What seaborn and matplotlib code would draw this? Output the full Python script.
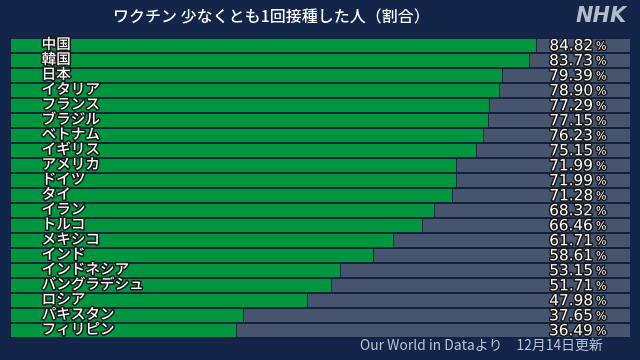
import seaborn as sns
import matplotlib.pyplot as plt
import matplotlib.patheffects as pe
import pandas as pd

countries = ['中国', '韓国', '日本', 'イタリア', 'フランス', 'ブラジル', 'ベトナム', 'イギリス',
             'アメリカ', 'ドイツ', 'タイ', 'イラン', 'トルコ', 'メキシコ', 'インド',
             'インドネシア', 'バングラデシュ', 'ロシア', 'パキスタン', 'フィリピン']
rates = [84.82, 83.73, 79.39, 78.90, 77.29, 77.15, 76.23, 75.15, 71.99, 71.99,
         71.28, 68.32, 66.46, 61.71, 58.61, 53.15, 51.71, 47.98, 37.65, 36.49]
full = [100] * len(countries)

title = 'ワクチン 少なくとも1回接種した人（割合）'
source = 'Our World in Dataより　12月14日更新'

bg = '#13264a'
green = '#00953f'
grey = '#46546e'

df = pd.DataFrame({'country': countries, 'rate': rates, 'full': full})

sns.set_style('white')
plt.rcParams['font.family'] = ['Noto Sans CJK JP', 'DejaVu Sans']

fig = plt.figure(figsize=(6.4, 3.6), dpi=100, facecolor=bg)
ax = fig.add_axes([10 / 640, 22.5 / 360, 620 / 640, 300 / 360])
ax.set_facecolor(bg)

sns.barplot(data=df, x='full', y='country', orient='h', color=grey, width=0.88,
            edgecolor='#0e1d38', linewidth=0.6, saturation=1, ax=ax)
sns.barplot(data=df, x='rate', y='country', orient='h', color=green, width=0.88,
            edgecolor='#0e1d38', linewidth=0.6, saturation=1, ax=ax)

ax.set_xlim(0, 100)
ax.set_ylim(len(countries) - 0.5, -0.5)
ax.set_axis_off()

outline = [pe.withStroke(linewidth=2.2, foreground='#1a1a1a')]
for i, (c, r) in enumerate(zip(countries, rates)):
    ax.text(5.1, i, c, color='white', fontsize=10.5, va='center', ha='left',
            fontweight='medium', path_effects=outline)
    ax.text(94.0, i + 0.05, f'{r:.2f}', color='white', fontsize=11, va='center', ha='right',
            family=['DejaVu Sans'], path_effects=outline)
    ax.text(94.5, i + 0.1, '%', color='white', fontsize=8, va='center', ha='left',
            family=['DejaVu Sans'], path_effects=outline)

fig.text(271 / 640, 1 - 18 / 360, title, color='white', fontsize=11.5,
         fontweight='medium', ha='center', va='center')
fig.text(627 / 640, 1 - 16 / 360, 'NHK', color='#b4bcc8', fontsize=15,
         fontweight='bold', style='italic', ha='right', va='center', family=['DejaVu Sans'])
fig.text(603 / 640, 1 - 346 / 360, source, color='#b8c4d8', fontsize=10,
         ha='right', va='center')

fig.savefig('out.png', dpi=100, facecolor=bg)
